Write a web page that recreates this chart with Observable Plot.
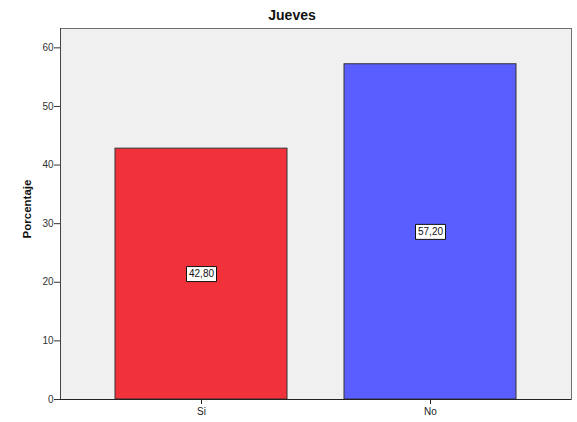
<!DOCTYPE html>
<html><head><meta charset="utf-8">
<script src="https://cdn.jsdelivr.net/npm/d3@7"></script>
<script src="https://cdn.jsdelivr.net/npm/@observablehq/plot@0.6"></script>
<style>body{margin:0;background:#fff}</style>
</head><body><div id="chart"></div>
<script>
const categories = ["Si", "No"];
const values = [42.80, 57.20];
const labels = ["42,80", "57,20"];
const colors = ["#F2323A", "#5A5EFF"];
const yTicks = [0, 10, 20, 30, 40, 50, 60];
const title = "Jueves";
const yLabel = "Porcentaje";

const data = categories.map((c, i) => ({cat: c, value: values[i], label: labels[i], color: colors[i]}));

const boxSymbol = {draw(ctx) { ctx.rect(-15, -7.5, 30, 15); }};

const chart = Plot.plot({
  width: 577, height: 422,
  marginLeft: 60, marginRight: 6, marginTop: 28, marginBottom: 23,
  style: {fontFamily: "Arial, 'Liberation Sans', sans-serif", background: "#fff"},
  x: {domain: categories, paddingInner: 0.25, paddingOuter: 0.236, label: null},
  y: {domain: [0, 63.3], label: null},
  marks: [
    Plot.frame({fill: "#F0F0F0", stroke: "#707070"}),
    Plot.frame({anchor: "left", stroke: "#444"}),
    Plot.barY(data, {x: "cat", y: "value", fill: "color", stroke: "#333", strokeWidth: 1}),
    Plot.ruleY([0], {stroke: "#222", strokeWidth: 1.2}),
    Plot.axisY({ticks: yTicks, tickSize: 6, tickPadding: 1, tickFormat: d => d, fontSize: 10, color: "#333", label: null}),
    Plot.axisX({tickSize: 5, tickPadding: 3, fontSize: 10, color: "#222", label: null}),
    Plot.dot(data, {x: "cat", y: d => d.value / 2, symbol: boxSymbol, fill: "#fff", stroke: "#111", strokeWidth: 1, r: 5}),
    Plot.text(data, {x: "cat", y: d => d.value / 2, text: "label", fontSize: 10, fill: "#111"}),
    Plot.text([title], {frameAnchor: "top", lineAnchor: "middle", dy: -13, dx: -24, fontSize: 14, fontWeight: "bold", fill: "#111"}),
    Plot.text([yLabel], {frameAnchor: "left", textAnchor: "middle", lineAnchor: "middle", rotate: -90, dx: -33, dy: -5, fontSize: 11.5, fontWeight: "bold", fill: "#111", style: {letterSpacing: "0.3px"}})
  ]
});
document.getElementById("chart").append(chart);
</script>
</body></html>
